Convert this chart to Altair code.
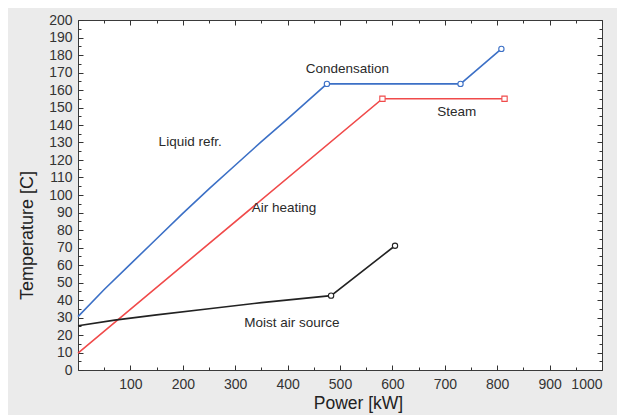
import altair as alt
import pandas as pd

# ---- data ----
liquid_x = [0, 50, 100, 150, 200, 250, 300, 350, 400, 475, 730, 808]
liquid_y = [30.5, 46, 60.5, 75, 89.5, 103.5, 117, 130.5, 143.5, 163.5, 163.5, 183.5]

air_x = [0, 581, 814]
air_y = [9.7, 155, 155]

moist_x = [0, 70, 150, 250, 350, 483, 605]
moist_y = [25.3, 28.5, 31.5, 35, 38.5, 42.5, 71]

liquid_mx = [475, 730, 808]
liquid_my = [163.5, 163.5, 183.5]
air_mx = [581, 814]
air_my = [155, 155]
moist_mx = [483, 605]
moist_my = [42.5, 71]

label_text = ["Condensation", "Steam", "Liquid refr.", "Air heating", "Moist air source"]
label_x = [514, 723, 214, 393, 408]
label_y = [172, 147.4, 130.3, 92.6, 27.1]

series = ["Liquid refr.", "Air heating", "Moist air source"]
colors = ["#3c70c6", "#f04a4a", "#222222"]
shapes = ["circle", "square", "circle"]

x_major = list(range(0, 1001, 100))
x_minor = list(range(50, 1000, 100))
x_labels = list(range(100, 1001, 100))
y_major = list(range(0, 201, 10))
y_minor = list(range(5, 200, 10))

FONT = "Liberation Sans"

rows = []
for s, xs, ys in zip(series, [liquid_x, air_x, moist_x], [liquid_y, air_y, moist_y]):
    for i, (a, b) in enumerate(zip(xs, ys)):
        rows.append({"series": s, "x": a, "y": b, "order": i})
lines_df = pd.DataFrame(rows)

mrows = []
for s, xs, ys in zip(series, [liquid_mx, air_mx, moist_mx], [liquid_my, air_my, moist_my]):
    for a, b in zip(xs, ys):
        mrows.append({"series": s, "x": a, "y": b})
marks_df = pd.DataFrame(mrows)

labels_df = pd.DataFrame({"text": label_text, "x": label_x, "y": label_y})

xs = alt.Scale(domain=[0, 1000], nice=False, zero=False)
ys = alt.Scale(domain=[0, 200], nice=False, zero=False)
color = alt.Color("series:N", scale=alt.Scale(domain=series, range=colors), legend=None)


def tick_axis(orient, values, size):
    return alt.Axis(orient=orient, values=values, labels=False, domain=False, grid=False,
                    ticks=True, tickSize={"expr": str(-size)}, tickColor="#333333",
                    tickWidth=1, title=None)


lines = alt.Chart(lines_df).mark_line(strokeWidth=1.6).encode(
    x=alt.X("x:Q", scale=xs, axis=alt.Axis(
        orient="bottom", values=x_labels, format="d", ticks=False, domain=False, grid=False,
        labelFontSize=14, labelPadding=7, labelColor="#333333", labelFont=FONT,
        title="Power [kW]", titleFontSize=17.5, titleFont=FONT, titleFontWeight="normal",
        titleColor="#222222", titleX=280, titleY=24, titleBaseline="top", titleAlign="center")),
    y=alt.Y("y:Q", scale=ys, axis=alt.Axis(
        orient="left", values=y_major, format="d", ticks=False, domain=False, grid=False,
        labelFontSize=14, labelPadding=6, labelColor="#333333", labelFont=FONT,
        title="Temperature [C]", titleFontSize=18, titleFont=FONT, titleFontWeight="normal",
        titleColor="#222222", titleX=-51, titleY=215, titleAngle=-90,
        titleBaseline="middle", titleAlign="center")),
    color=color,
    order="order:Q",
)

points = alt.Chart(marks_df).mark_point(filled=True, fill="white", size=28, strokeWidth=1.1, opacity=1).encode(
    x=alt.X("x:Q", scale=xs, axis=tick_axis("bottom", x_major, 5)),
    y=alt.Y("y:Q", scale=ys, axis=tick_axis("left", y_major, 5)),
    stroke=alt.Stroke("series:N", scale=alt.Scale(domain=series, range=colors), legend=None),
    shape=alt.Shape("series:N", scale=alt.Scale(domain=series, range=shapes), legend=None),
)

texts = alt.Chart(labels_df).mark_text(fontSize=13.5, font=FONT, color="#2a2a2a", align="center", baseline="middle").encode(
    x=alt.X("x:Q", scale=xs, axis=tick_axis("top", x_major, 5)),
    y=alt.Y("y:Q", scale=ys, axis=tick_axis("right", y_major, 5)),
    text="text:N",
)

minor1 = alt.Chart(marks_df).mark_point(opacity=0).encode(
    x=alt.X("x:Q", scale=xs, axis=tick_axis("bottom", x_minor, 3)),
    y=alt.Y("y:Q", scale=ys, axis=tick_axis("left", y_minor, 3)),
)
minor2 = alt.Chart(marks_df).mark_point(opacity=0).encode(
    x=alt.X("x:Q", scale=xs, axis=tick_axis("top", x_minor, 3)),
    y=alt.Y("y:Q", scale=ys, axis=tick_axis("right", y_minor, 3)),
)

chart = alt.layer(lines, points, texts, minor1, minor2).resolve_axis(
    x="independent", y="independent"
).properties(
    width=524, height=350,
    autosize=alt.AutoSizeParams(type="none"),
    padding={"left": 70, "top": 12, "right": 15, "bottom": 45},
    background="#ebebeb",
).configure_view(
    fill="white", stroke="#3a3a3a", strokeWidth=1
)

chart.save("out.html", embed_options={"renderer": "svg", "actions": False})
